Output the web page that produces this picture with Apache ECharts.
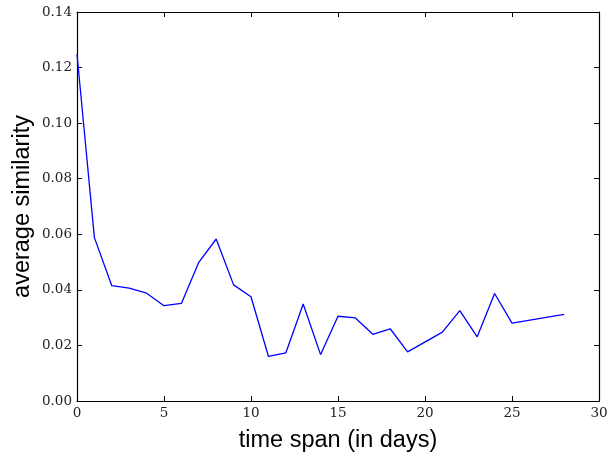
<!DOCTYPE html>
<html><head><meta charset="utf-8">
<script src="https://cdn.jsdelivr.net/npm/echarts@6/dist/echarts.min.js"></script>
<style>html,body{margin:0;padding:0;background:#fff}#c{width:615px;height:458px}</style>
</head><body><div id="c"></div>
<script>
const days = [0,1,2,3,4,5,6,7,8,9,10,11,12,13,14,15,16,17,18,19,21,22,23,24,25,28];
const similarity = [0.1248,0.0588,0.0415,0.0406,0.0388,0.0343,0.0351,0.0499,0.0583,0.0418,0.0375,0.0161,0.0173,0.0349,0.0167,0.0305,0.0299,0.0240,0.0260,0.0177,0.0248,0.0325,0.0231,0.0387,0.0280,0.0312];
const xTitle = 'time span (in days)';
const yTitle = 'average similarity';

const chart = echarts.init(document.getElementById('c'), null, {renderer:'canvas'});
const tickFont = {fontFamily:'DejaVu Serif', fontSize:13.5, color:'#222'};
const common = {
  axisLine:{show:true, onZero:false, lineStyle:{color:'#000', width:1.2}},
  axisTick:{show:true, inside:true, length:5, lineStyle:{color:'#000'}},
  splitLine:{show:false}
};
chart.setOption({
  animation:false,
  grid:{left:77, right:16, top:12, bottom:53, containLabel:false},
  xAxis:[
    Object.assign({type:'value', min:0, max:30, interval:5, position:'bottom',
      axisLabel:Object.assign({margin:5}, tickFont),
      name:xTitle, nameLocation:'middle', nameGap:28,
      nameTextStyle:{fontFamily:'Liberation Sans', fontSize:23.5, color:'#000'}}, common),
    Object.assign({type:'value', min:0, max:30, interval:5, position:'top',
      axisLabel:{show:false}}, common)
  ],
  yAxis:[
    Object.assign({type:'value', min:0, max:0.14, interval:0.02, position:'left',
      axisLabel:Object.assign({margin:5, formatter:v=>v.toFixed(2)}, tickFont),
      name:yTitle, nameLocation:'middle', nameGap:42, nameMoveOverlap:false,
      nameTextStyle:{fontFamily:'Liberation Sans', fontSize:23.5, color:'#000'}}, common),
    Object.assign({type:'value', min:0, max:0.14, interval:0.02, position:'right',
      axisLabel:{show:false}}, common)
  ],
  series:[{
    type:'line',
    data:days.map((d,i)=>[d, similarity[i]]),
    showSymbol:false,
    lineStyle:{color:'#0000ff', width:1.3},
    itemStyle:{color:'#0000ff'}
  }]
});
</script></body></html>
